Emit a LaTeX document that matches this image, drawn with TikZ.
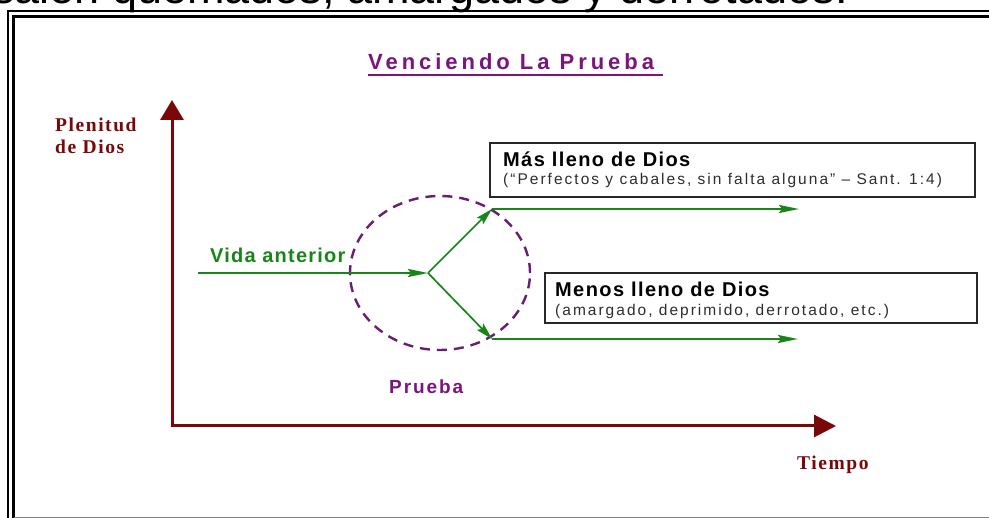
\documentclass[tikz,border=0pt]{standalone}
\usepackage{fontspec}
\setmainfont{Liberation Sans}
\newfontfamily\headLS[LetterSpace=7]{Liberation Sans}
\newfontfamily\subLS[LetterSpace=13]{Liberation Sans}
\newfontfamily\vidaLS[LetterSpace=6]{Liberation Sans}
\newfontfamily\pruebaLS[LetterSpace=10]{Liberation Sans}
\newfontfamily\serifLS[LetterSpace=8]{Liberation Serif}
\newfontfamily\titleLS[LetterSpace=18]{Liberation Sans}
\usetikzlibrary{arrows.meta}
\definecolor{axisred}{RGB}{122,8,8}
\definecolor{titlepurple}{RGB}{125,20,125}
\definecolor{lifegreen}{RGB}{25,132,25}
\definecolor{ringpurple}{RGB}{105,30,115}
\definecolor{boxgray}{RGB}{40,40,40}
\definecolor{subgray}{RGB}{45,45,45}
\tikzset{
  txt/.style={inner sep=0pt, anchor=base west},
  axislabel/.style={txt, text=axisred, font=\serifLS\bfseries\fontsize{19.5}{22}\selectfont},
  axisline/.style={draw=axisred, line width=3pt, {Triangle[width=23pt,length=20pt]}-{Triangle[width=22pt,length=22pt]}},
  lifeline/.style={draw=lifegreen, line width=2.2pt, -{Stealth[length=20pt,width=8pt,inset=3pt]}},
  branchline/.style={draw=lifegreen, line width=1.7pt, -{Stealth[length=17pt,width=9pt,inset=3pt]}},
  ring/.style={draw=ringpurple, line width=2.4pt, dash pattern=on 10pt off 7pt},
  infobox/.style={draw=boxgray, line width=1.3pt, fill=white, inner sep=0pt},
  boxhead/.style={txt, text=black, font=\headLS\bfseries\fontsize{20}{23}\selectfont},
  boxsub/.style={txt, text=subgray, font=\subLS\fontsize{15.5}{18}\selectfont},
}
\begin{document}
\begin{tikzpicture}[x=1pt,y=-1pt]
\useasboundingbox (0,0) rectangle (989,518);
\fill[white] (0,0) rectangle (989,518);
% cropped sentence at top
\node[txt, text=black, font=\fontsize{45}{50}\selectfont] (topline) at (-8,4) {salen quemados, amargados y derrotados.};
% frame
\draw[line width=2pt] (8,525) -- (8,11.5) -- (995,11.5);
\draw[line width=3.5pt] (13.5,525) -- (13.5,16.5) -- (995,16.5);
\draw[line width=1.5pt, gray] (13.5,517.5) -- (995,517.5);
% title
\node[txt, text=titlepurple, font=\titleLS\bfseries\fontsize{22}{25}\selectfont] (title) at (368,69.5) {Venciendo La Prueba};
\draw[titlepurple, line width=2.4pt] (368,75) -- (663,75);
% axes
\coordinate (ytip) at (172,100);
\coordinate (orig) at (172,426);
\coordinate (xtip) at (836,426);
\draw[axisline] (ytip) -- (orig) -- (xtip);
\node[axislabel] (plen) at (55,132) {Plenitud};
\node[axislabel] (dedios) at (55,154) {de Dios};
\node[axislabel] (tiempo) at (797,470) {Tiempo};
% ring
\node[draw=none, inner sep=0pt] (ringc) at (440,273) {};
\draw[ring] (ringc) ellipse [x radius=90pt, y radius=77pt];
\node[txt, text=titlepurple, font=\pruebaLS\bfseries\fontsize{19}{22}\selectfont] (prueba) at (389,394) {Prueba};
% life lines
\coordinate (start) at (198,273);
\coordinate (br) at (428,273);
\coordinate (up) at (492,209);
\coordinate (dn) at (492,339);
\coordinate (upend) at (799,209);
\coordinate (dnend) at (798,339);
\draw[lifeline] (start) -- (br);
\draw[branchline] (br) -- (up);
\draw[branchline] (br) -- (dn);
\draw[lifeline] (up) -- (upend);
\draw[lifeline] (dn) -- (dnend);
\node[txt, text=lifegreen, font=\vidaLS\bfseries\fontsize{20}{23}\selectfont] (vida) at (210,263) {Vida anterior};
% boxes
\node[infobox, minimum width=485pt, minimum height=54pt] (box1) at (732.5,170) {};
\node[boxhead] (mas) at (503,166.5) {Más lleno de Dios};
\node[boxsub] (perf) at (503,185) {(“Perfectos y cabales, sin falta alguna” – Sant. 1:4)};
\node[infobox, minimum width=432pt, minimum height=50pt] (box2) at (761,298) {};
\node[boxhead] (menos) at (555,297) {Menos lleno de Dios};
\node[boxsub] (amarg) at (555,316) {(amargado, deprimido, derrotado, etc.)};
\end{tikzpicture}
\end{document}
